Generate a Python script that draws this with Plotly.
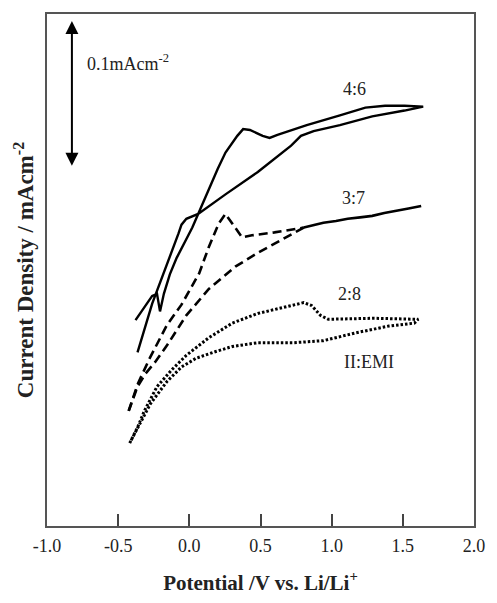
import plotly.graph_objects as go

# ---- data (potential in V vs Li/Li+, current density in mA cm^-2, arbitrary offset) ----
# 4:6 (solid, full cycle)
x46 = [-0.378, -0.261, -0.227, -0.206, -0.179, -0.137, -0.089, -0.041, 0.021, 0.062, 0.137, 0.199,
       0.254, 0.337, 0.378, 0.426, 0.515, 0.564, 0.619, 0.825, 1.058, 1.237, 1.375, 1.512, 1.643,
       1.512, 1.285, 1.058, 0.873, 0.784, 0.715, 0.481, 0.254, 0.137, 0.062, -0.021, -0.055, -0.076,
       -0.158, -0.261, -0.364]
y46 = [0.1407, 0.1573, 0.1587, 0.1467, 0.1587, 0.1720, 0.1833, 0.1927, 0.2040, 0.2133, 0.2307, 0.2440,
       0.2553, 0.2667, 0.2713, 0.2707, 0.2667, 0.2653, 0.2673, 0.2740, 0.2807, 0.2860, 0.2873, 0.2873, 0.2867,
       0.2840, 0.2800, 0.2740, 0.2700, 0.2667, 0.2600, 0.2420, 0.2267, 0.2187, 0.2133, 0.2100, 0.2060, 0.2000,
       0.1787, 0.1520, 0.1187]

# 3:7 (dashed, with overlapping solid-looking high-potential segment)
x37_fwd = [-0.426, -0.364, -0.282, -0.227, -0.158, -0.055, 0.000, 0.069, 0.137, 0.206, 0.254, 0.337,
           0.371, 0.440, 0.598, 0.804]
y37_fwd = [0.0787, 0.0967, 0.1140, 0.1240, 0.1373, 0.1513, 0.1607, 0.1727, 0.1907, 0.2067, 0.2133, 0.2020,
           0.1973, 0.1987, 0.2007, 0.2040]
x37_top = [0.804, 0.880, 0.942, 1.030, 1.113, 1.200, 1.285, 1.370, 1.457, 1.540, 1.629]
y37_top = [0.2040, 0.2060, 0.2073, 0.2085, 0.2100, 0.2110, 0.2120, 0.2140, 0.2153, 0.2170, 0.2187]
x37_rev = [0.804, 0.667, 0.481, 0.323, 0.137, -0.021, -0.158, -0.241, -0.309, -0.364, -0.426]
y37_rev = [0.2040, 0.1967, 0.1867, 0.1773, 0.1620, 0.1440, 0.1233, 0.1120, 0.1040, 0.0953, 0.0787]

# 2:8 (dotted, full cycle)
x28 = [-0.419, -0.364, -0.316, -0.227, -0.124, -0.021, 0.137, 0.302, 0.481, 0.715, 0.804, 0.859,
       0.921, 0.976, 1.285, 1.608, 1.581, 1.402, 1.168, 0.942, 0.735, 0.481, 0.302, 0.186, 0.048,
       -0.055, -0.158, -0.275, -0.364, -0.419]
y28 = [0.0567, 0.0673, 0.0787, 0.0953, 0.1067, 0.1167, 0.1287, 0.1387, 0.1453, 0.1507, 0.1527, 0.1507,
       0.1440, 0.1413, 0.1420, 0.1413, 0.1387, 0.1367, 0.1320, 0.1267, 0.1253, 0.1253, 0.1227, 0.1193, 0.1147,
       0.1087, 0.0987, 0.0833, 0.0673, 0.0567]

labels = ["4:6", "3:7", "2:8", "II:EMI"]
label_x = [1.161, 1.154, 1.127, 1.265]
label_y = [0.2987, 0.2240, 0.1587, 0.1120]

scale_label = "0.1mAcm<sup>-2</sup>"
scale_x = -0.825
scale_y0, scale_y1 = 0.2453, 0.3453

xticks = [-1.0, -0.5, 0.0, 0.5, 1.0, 1.5, 2.0]
xticklabels = ["-1.0", "-0.5", "0.0", "0.5", "1.0", "1.5", "2.0"]

FONT = "Liberation Serif, Times New Roman, serif"

fig = go.Figure()
fig.add_trace(go.Scatter(x=x46, y=y46, mode="lines", line=dict(color="black", width=2.4),
                         showlegend=False, hoverinfo="skip"))
fig.add_trace(go.Scatter(x=x37_fwd, y=y37_fwd, mode="lines",
                         line=dict(color="black", width=2.6, dash="9px,5px"),
                         showlegend=False, hoverinfo="skip"))
fig.add_trace(go.Scatter(x=x37_rev, y=y37_rev, mode="lines",
                         line=dict(color="black", width=2.6, dash="9px,5px"),
                         showlegend=False, hoverinfo="skip"))
fig.add_trace(go.Scatter(x=x37_top, y=y37_top, mode="lines", line=dict(color="black", width=2.6),
                         showlegend=False, hoverinfo="skip"))
fig.add_trace(go.Scatter(x=x28, y=y28, mode="lines",
                         line=dict(color="black", width=3, dash="2.5px,2px"),
                         showlegend=False, hoverinfo="skip"))

for t, lx, ly in zip(labels, label_x, label_y):
    fig.add_annotation(x=lx, y=ly, text=t, showarrow=False,
                       font=dict(family=FONT, size=18, color="#222"))

fig.add_annotation(x=scale_x, y=scale_y1, ax=scale_x, ay=scale_y0, xref="x", yref="y",
                   axref="x", ayref="y", text="", showarrow=True, arrowhead=2,
                   arrowside="start+end", arrowsize=1.3, arrowwidth=2, arrowcolor="black")
fig.add_annotation(x=scale_x + 0.095, y=0.3167, text=scale_label, showarrow=False, xanchor="left",
                   font=dict(family=FONT, size=18, color="#222"))

fig.update_layout(
    width=497, height=603,
    margin=dict(l=47, r=14, t=13, b=65),
    paper_bgcolor="white", plot_bgcolor="white",
    font=dict(family=FONT, color="#222"),
    xaxis=dict(range=[-1.0, 2.0], tickvals=xticks, ticktext=xticklabels, ticks="inside",
               ticklen=12, tickwidth=1.5, tickcolor="#444", showgrid=False, zeroline=False,
               showline=True, linecolor="#555", linewidth=1.5, mirror=True, ticklabelstandoff=3,
               tickfont=dict(family=FONT, size=18, color="#222"),
               title=dict(text="<b>Potential /V vs. Li/Li<sup>+</sup></b>", standoff=20,
                          font=dict(family=FONT, size=21, color="#222"))),
    yaxis=dict(range=[0, 0.35], showticklabels=False, ticks="", showgrid=False, zeroline=False,
               showline=True, linecolor="#555", linewidth=1.5, mirror=True,
               title=dict(text="<b>Current Density / mAcm<sup>-2</sup></b>", standoff=5,
                          font=dict(family=FONT, size=23, color="#222"))),
)

fig.write_html("out.html", config={"displayModeBar": False},
               post_script="document.body.style.margin='0';document.body.style.overflow='hidden';")
